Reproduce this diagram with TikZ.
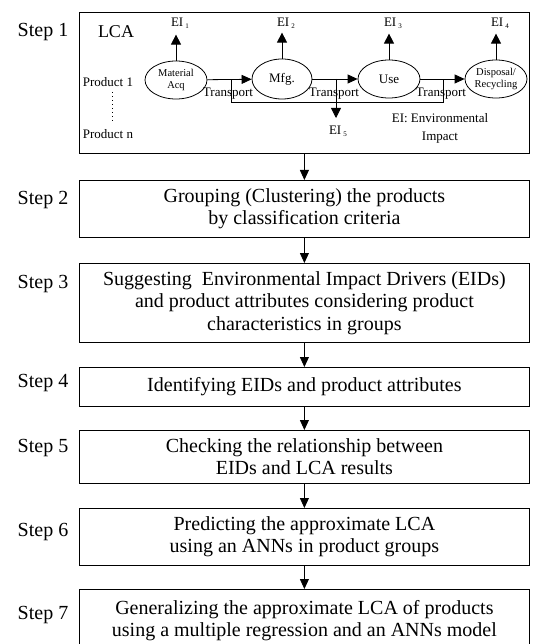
\documentclass[tikz,border=0pt]{standalone}
\usepackage{fontspec}
\setmainfont{Liberation Serif}
\usetikzlibrary{arrows.meta,shapes.geometric}
\begin{document}
\begin{tikzpicture}[x=1pt,y=-1pt,
  line width=0.8pt,
  stepbox/.style={draw, anchor=north west, minimum width=450pt, inner sep=0pt,
    align=center, font=\fontsize{20}{22.5}\selectfont},
  steplabel/.style={font=\fontsize{20}{22}\selectfont, inner sep=0pt},
  phase/.style={draw, ellipse, inner sep=0pt, align=center},
  small/.style={font=\fontsize{13}{14}\selectfont, inner sep=0pt},
  tiny/.style={font=\fontsize{10.5}{11.5}\selectfont},
  flow/.style={-{Triangle[length=10pt,width=9pt]}},
  upflow/.style={-{Triangle[length=10pt,width=10pt]}}]
\useasboundingbox (0,0) rectangle (532,644);
\clip (0,0) rectangle (532,644);

% boxes
\node[stepbox, minimum height=141pt] (b1) at (79,12) {};
\node[stepbox, minimum height=57pt] (b2) at (79,180)
  {Grouping (Clustering) the products\\by classification criteria};
\node[stepbox, minimum height=79pt] (b3) at (79,263)
  {Suggesting\ \ Environmental Impact Drivers (EIDs)\\and product attributes considering product\\characteristics in groups};
\node[stepbox, minimum height=39pt] (b4) at (79,367)
  {Identifying EIDs and product attributes};
\node[stepbox, minimum height=53pt] (b5) at (79,430)
  {Checking the relationship between\\EIDs and LCA results};
\node[stepbox, minimum height=57pt] (b6) at (79,508)
  {Predicting the approximate LCA\\using an ANNs in product groups};
\node[stepbox, minimum height=62pt] (b7) at (79,589)
  {Generalizing the approximate LCA of products\\using a multiple regression and an ANNs model};

\foreach \a/\b in {b1/b2,b2/b3,b3/b4,b4/b5,b5/b6,b6/b7}
  \draw[flow] (\a.south) -- (\b.north);

% step labels
\node[steplabel] (s1) at (43,32) {Step 1};
\node[steplabel] (s2) at (43,200) {Step 2};
\node[steplabel] (s3) at (43,284) {Step 3};
\node[steplabel] (s4) at (43,383) {Step 4};
\node[steplabel] (s5) at (43,448) {Step 5};
\node[steplabel] (s6) at (43,532) {Step 6};
\node[steplabel] (s7) at (43,615) {Step 7};

% step 1 content
\node[font=\fontsize{18}{20}\selectfont, inner sep=0pt] (lca) at (116,32) {LCA};
\node[small] (p1) at (108,82) {Product 1};
\node[small] (pn) at (108,134) {Product n};
\coordinate (d1) at (112,92);
\coordinate (d2) at (112,124);
\draw[line width=1pt, dash pattern=on 1pt off 3pt] (d1) -- (d2);

\node[phase, minimum width=62pt, minimum height=38pt, tiny] (e1) at (176,80) {Material\\Acq};
\node[phase, minimum width=60pt, minimum height=40pt, small] (e2) at (282,79) {Mfg.};
\node[phase, minimum width=62pt, minimum height=38pt, small] (e3) at (389,79) {Use};
\node[phase, minimum width=62pt, minimum height=38pt, tiny] (e4) at (496,79) {Disposal/\\Recycling};

\draw[flow] (e1) -- (e2);
\draw[flow] (e2) -- (e3);
\draw[flow] (e3) -- (e4);

\node[small] (ei1) at (180,23) {EI\,\raisebox{-2pt}{\scriptsize 1}};
\node[small] (ei2) at (286,23) {EI\,\raisebox{-2pt}{\scriptsize 2}};
\node[small] (ei3) at (393,23) {EI\,\raisebox{-2pt}{\scriptsize 3}};
\node[small] (ei4) at (500,23) {EI\,\raisebox{-2pt}{\scriptsize 4}};
\foreach \i in {1,2,3,4}
  \draw[upflow] (e\i.north) -- ++(0,26pt);

% transport
\node[small] (t1) at (228,94) {Transport};
\node[small] (t2) at (334,94) {Transport};
\node[small] (t3) at (441,94) {Transport};
\coordinate (k1) at (231,80);
\coordinate (k2) at (336,79);
\coordinate (k3) at (443,79);
\coordinate (kb1) at (231,102);
\coordinate (kb3) at (443,102);
\coordinate (k5) at (336,118);
\draw (k1) -- (kb1) -- (kb3) -- (k3);
\draw[upflow] (k2) -- (k5);
\node[small] (ei5) at (338,131) {EI\,\raisebox{-2pt}{\scriptsize 5}};
\node[small, align=center, font=\fontsize{13}{18}\selectfont] (eil) at (440,128) {EI: Environmental\\Impact};
\end{tikzpicture}
\end{document}
